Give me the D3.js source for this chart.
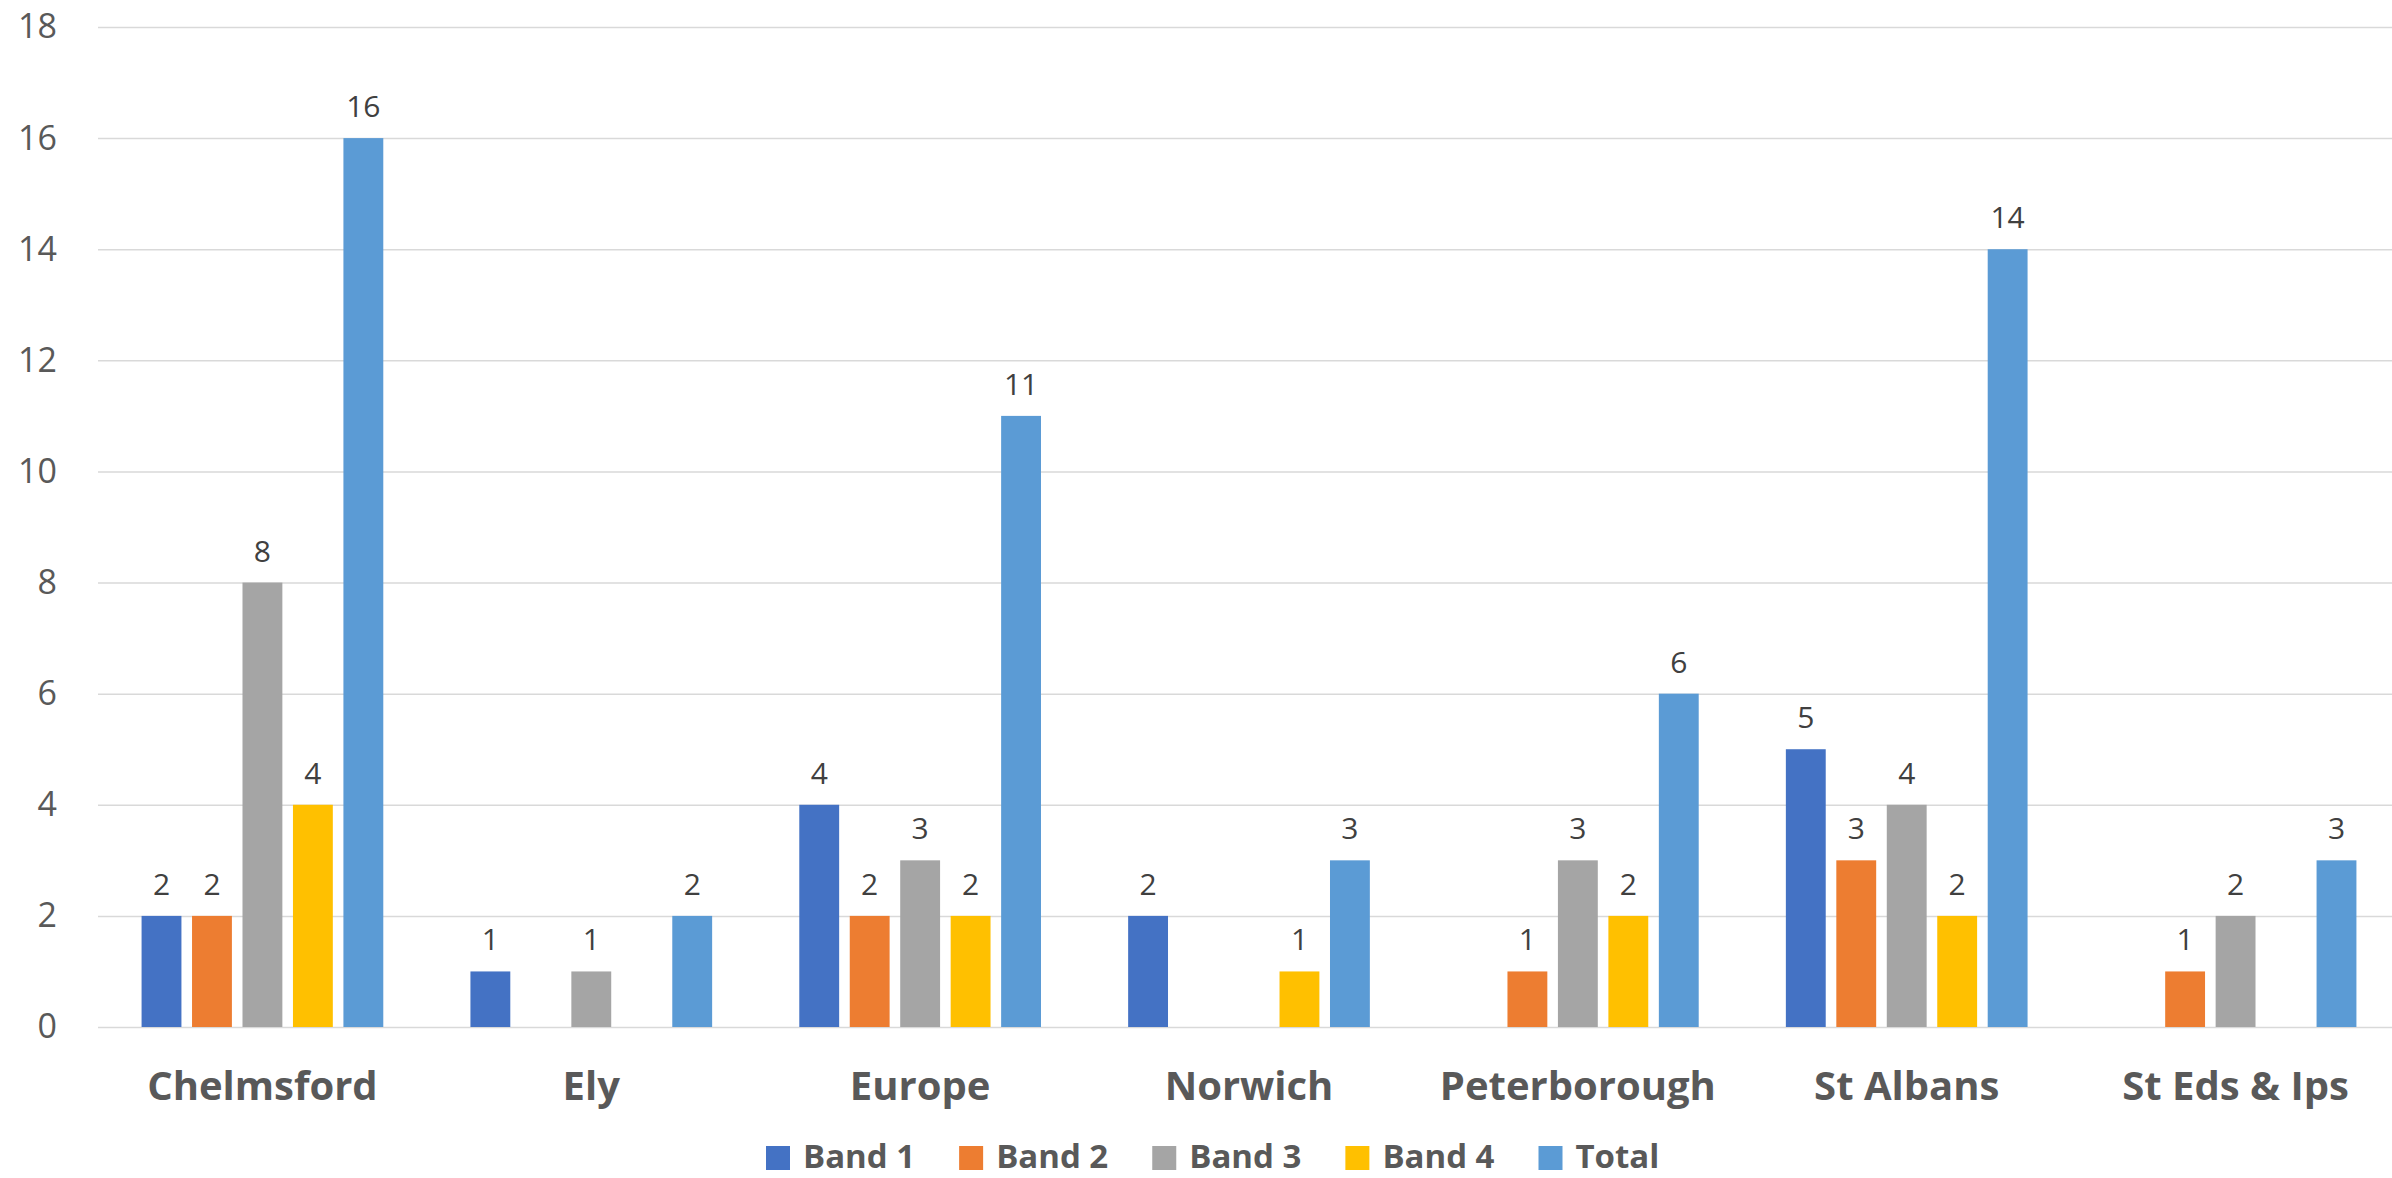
<!DOCTYPE html>
<html>
<head>
<meta charset="utf-8">
<script src="https://cdn.jsdelivr.net/npm/d3@7"></script>
<style>
  html, body { margin: 0; padding: 0; background: #fff; }
  svg { display: block; }
</style>
</head>
<body>
<svg id="chart" width="2392" height="1178"></svg>
<script>
const categories = ["Chelmsford", "Ely", "Europe", "Norwich", "Peterborough", "St Albans", "St Eds & Ips"];
const seriesNames = ["Band 1", "Band 2", "Band 3", "Band 4", "Total"];
const band1 = [2, 1, 4, 2, null, 5, null];
const band2 = [2, null, 2, null, 1, 3, 1];
const band3 = [8, 1, 3, null, 3, 4, 2];
const band4 = [4, null, 2, 1, 2, 2, null];
const total = [16, 2, 11, 3, 6, 14, 3];
const yTicks = [0, 2, 4, 6, 8, 10, 12, 14, 16, 18];
const colors = ["#4472C4", "#ED7D31", "#A5A5A5", "#FFC000", "#5B9BD5"];

const seriesValues = [band1, band2, band3, band4, total];

const svg = d3.select("#chart");
const FONT = "'Open Sans', 'Noto Sans', sans-serif";

const plotL = 98, plotR = 2400, plotT = 27, plotB = 1027;

const x0 = d3.scaleBand().domain(categories).range([plotL, plotR]).padding(0);
const groupW = x0.bandwidth() * 0.735;
const x1 = d3.scaleBand().domain(seriesNames).range([0, groupW]).paddingInner(0.21).paddingOuter(0);
const y = d3.scaleLinear().domain([0, 18]).range([plotB, plotT]);

// gridlines
const grid = svg.append("g")
  .attr("transform", `translate(${plotL},0)`)
  .call(d3.axisLeft(y).tickValues(yTicks).tickSize(-(plotR - plotL)).tickFormat(""));
grid.select(".domain").remove();
grid.selectAll(".tick line").attr("stroke", "#D9D9D9").attr("stroke-width", 1.5);

// y tick labels
const yAxis = svg.append("g")
  .attr("transform", `translate(${plotL},0)`)
  .call(d3.axisLeft(y).tickValues(yTicks).tickSize(0).tickPadding(41));
yAxis.select(".domain").remove();
yAxis.selectAll("text")
  .attr("font-family", FONT).attr("font-size", 34).attr("fill", "#595959");

// bars
const rows = [];
categories.forEach((c, ci) => {
  seriesNames.forEach((s, si) => {
    const v = seriesValues[si][ci];
    if (v !== null && v !== undefined) rows.push({ c, s, si, v });
  });
});

const gx = (d) => x0(d.c) + (x0.bandwidth() - groupW) / 2 + x1(d.s);

svg.append("g").selectAll("rect")
  .data(rows).join("rect")
  .attr("x", gx)
  .attr("y", d => y(d.v))
  .attr("width", x1.bandwidth())
  .attr("height", d => y(0) - y(d.v))
  .attr("fill", d => colors[d.si]);

// data labels
svg.append("g").selectAll("text")
  .data(rows).join("text")
  .attr("x", d => gx(d) + x1.bandwidth() / 2)
  .attr("y", d => y(d.v) - 21)
  .attr("text-anchor", "middle")
  .attr("font-family", FONT).attr("font-size", 30).attr("fill", "#404040")
  .text(d => d.v);

// x axis labels
const xAxis = svg.append("g")
  .attr("transform", `translate(0,${plotB})`)
  .call(d3.axisBottom(x0).tickSize(0));
xAxis.select(".domain").remove();
xAxis.selectAll("text")
  .attr("y", 73).attr("dy", 0)
  .attr("font-family", FONT).attr("font-size", 40).attr("font-weight", "bold").attr("fill", "#595959");

// legend
const legend = svg.append("g");
let lx = 766;
seriesNames.forEach((s, i) => {
  const g = legend.append("g");
  g.append("rect").attr("x", lx).attr("y", 1146).attr("width", 24).attr("height", 24).attr("fill", colors[i]);
  const t = g.append("text").attr("x", lx + 37).attr("y", 1168)
    .attr("font-family", FONT).attr("font-size", 33).attr("font-weight", "bold").attr("fill", "#595959")
    .text(s);
  lx += 37 + t.node().getComputedTextLength() + 44;
});
</script>
</body>
</html>
